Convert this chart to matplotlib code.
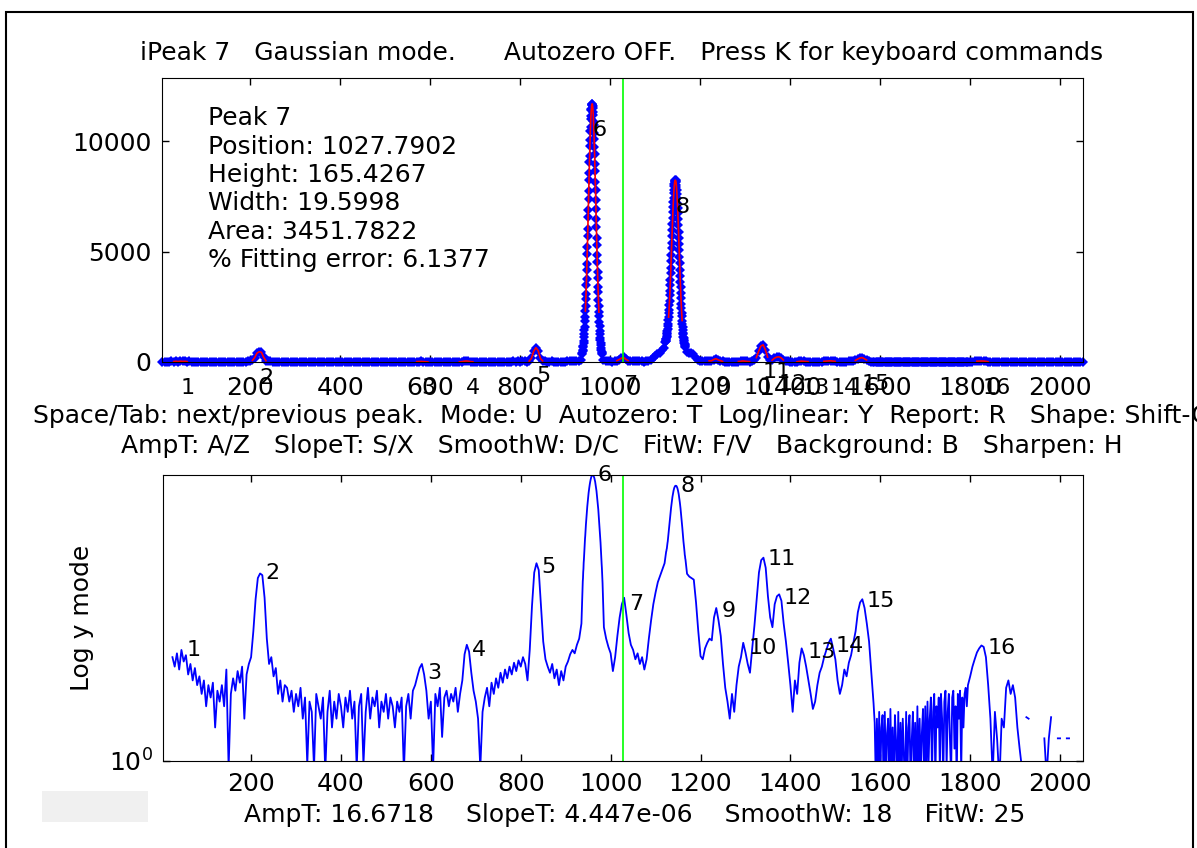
import numpy as np
import matplotlib
matplotlib.use('Agg')
import matplotlib.pyplot as plt
from matplotlib.patches import Rectangle
from matplotlib.ticker import NullLocator
from matplotlib.transforms import offset_copy

#spectrum typed in pieces: first x, step in x, intensities
seg_start = [5, 938, 985, 1123, 1170, 1587.5, 1800]
seg_step = [5, 0.5, 5, 0.5, 5, 2.5, 5]

#x 5 .. 935
cnt_low = [
    -1, 0, -2, 0, 30, 22, 34, 20, 38, 26,
    32, 17, 24, 14, 21, 12, 16, 9, 14, 6,
    12, 8, 13, 3, 10, 7, 12, 6, 20, 0.8,
    9, 15, 10, 19, 13, 22, 4, 17, 24, 30,
    70, 200, 400, 465, 440, 210, 55, 24, 30, 16,
    21, 9, 14, 7, 12, 11, 7, 10, 5, 9,
    6, 11, 4, 8, 0.9, 7, 5, 0.8, 9, 6,
    4, 8, 0.7, 5, 10, 3, 7, 4, 9, 6,
    3, 8, 5, 10, 4, 7, 0.8, 6, 9, 0.9,
    5, 11, 4, 8, 6, 10, 3, 7, 5, 9,
    4, 8, 6, 3, 7, 5, 8, 0.7, 6, 9,
    4, 10, 12, 16, 21, 24, 17, 10, 4, 7,
    0.8, 9, 6, 11, 2.2, 8, 10, 6, 9, 7,
    11, 5, 9, 14, 33, 45, 36, 18, 10, 7,
    4, 0.8, 5, 8, 11, 6, 13, 9, 15, 11,
    18, 13, 20, 15, 22, 17, 25, 19, 27, 22,
    30, 24, 14, 38, 160, 480, 650, 520, 160, 50,
    28, 22, 18, 24, 15, 20, 12, 19, 14, 22,
    26, 33, 38, 34, 45, 55, 90]

#x 938 .. 982 (peak 6)
cnt_pk6 = [
    360, 400, 490, 540, 660, 730, 870, 960, 1130, 1250,
    1460, 1600, 1850, 2020, 2310, 2520, 2850, 3100, 3470, 3740,
    4150, 4450, 4900, 5220, 5700, 6040, 6550, 6880, 7400, 7740,
    8250, 8570, 9060, 9350, 9800, 10060, 10460, 10670, 11000, 11150,
    11400, 11480, 11640, 11660, 11700, 11690, 11600, 11530, 11340, 11200,
    10930, 10730, 10390, 10120, 9730, 9420, 8980, 8640, 8170, 7810,
    7320, 6950, 6470, 6100, 5630, 5280, 4830, 4510, 4090, 3790,
    3410, 3150, 2800, 2560, 2260, 2070, 1810, 1640, 1420, 1280,
    1100, 990, 840, 750, 630, 560, 465, 415, 340]

#x 985 .. 1120
cnt_mid = [
    80, 55, 42, 34, 19, 30, 60, 110, 170, 210,
    120, 66, 45, 38, 28, 34, 24, 30, 20, 28,
    55, 100, 170, 250, 350, 430, 530, 650]

#x 1123 .. 1167 (peak 8)
cnt_pk8 = [
    905, 950, 970, 1025, 1050, 1125, 1170, 1265, 1320, 1425,
    1500, 1635, 1740, 1895, 2030, 2215, 2370, 2585, 2770, 3015,
    3230, 3495, 3730, 4015, 4270, 4575, 4840, 5145, 5410, 5715,
    5980, 6275, 6520, 6795, 7020, 7265, 7450, 7665, 7810, 7965,
    8060, 8165, 8200, 8235, 8225,
    8230, 8190, 8150, 8040, 7940, 7780, 7630, 7410, 7220, 6970,
    6740, 6460, 6210, 5910, 5640, 5330, 5060, 4750, 4480, 4170,
    3910, 3620, 3380, 3110, 2890, 2640, 2450, 2230, 2070, 1880,
    1740, 1580, 1470, 1330, 1250, 1140, 1080, 980, 930, 850,
    820, 760, 735, 690]

#x 1170 .. 1585
cnt_high = [
    460, 420, 400, 380, 180, 70, 31, 28, 40, 48,
    55, 52, 110, 150, 100, 60, 24, 11, 7, 4,
    9, 5, 12, 22, 30, 48, 35, 24, 18, 40,
    85, 200, 480, 720, 780, 560, 220, 110, 80, 170,
    220, 235, 190, 90, 50, 25, 12, 5, 14, 9,
    25, 40, 32, 22, 14, 9, 5.5, 7, 12, 18,
    22, 30, 38, 48, 55, 40, 28, 14, 9, 12,
    20, 16, 25, 32, 48, 70, 130, 180, 200, 150,
    90, 50, 18, 6.6]

#x 1587.5 .. 1795 (noisy floor)
cnt_floor = [
    3.5, 0.5, 4, 0.4, 5, 0.6, 3, 4.5, 0.3, 5,
    0.5, 2.5, 4, 0.4, 5.5, 0.6, 3, 0.3, 4.5, 2,
    0.4, 5, 0.5, 3.5, 0.6, 4, 1.2, 0.3, 5, 0.5,
    3, 4.5, 0.4, 2, 5, 0.6, 3.5, 0.3, 6, 0.5,
    4, 0.7, 2.5, 5.5, 0.4, 6,
    0.5, 7, 1, 4, 8, 0.6, 5, 9, 0.5, 6,
    3, 8, 0.7, 9, 4, 0.5, 7, 10, 0.8, 5,
    9, 2, 0.6, 8, 10, 1.5, 6, 0.5, 9, 4,
    10, 0.7, 8, 3, 9, 11, 6, 12]

#x 1800 .. 2050
cnt_tail = [
    16, 22, 28, 35,
    40, 44, 42, 30, 12, 4, 0.6, 5, 2, 0.5,
    4, 3, 11, 14, 9, 12, 8, 3, 1.5, 0.8,
    -3, 4.2, 4.0, -5, -2, -8, -4, -1, 0, 2.1,
    0.6, 2.1, 4.2, -3, -6, 2.1, 2.1, -4, -2, 2.1,
    2.1, -5, -3, -7, -2, -4, -1]

#detected peaks
peak_num = list(range(1, 17))
peak_pos = [45, 220, 581, 680, 835, 960, 1029, 1145, 1235, 1296, 1338, 1374, 1426, 1489, 1559, 1828]
peak_hgt = [38, 470, 18, 38, 575, 11700, 170, 8235, 135, 41, 745, 209, 35, 43, 190, 41]

cursor_x = 1027.7902
info = ['Peak 7', 'Position: 1027.7902', 'Height: 165.4267', 'Width: 19.5998',
        'Area: 3451.7822', '% Fitting error: 6.1377']

title_txt = 'iPeak 7   Gaussian mode.      Autozero OFF.   Press K for keyboard commands'
keys_1 = 'Space/Tab: next/previous peak.  Mode: U  Autozero: T  Log/linear: Y  Report: R   Shape: Shift-G'
keys_2 = 'AmpT: A/Z   SlopeT: S/X   SmoothW: D/C   FitW: F/V   Background: B   Sharpen: H'
status = 'AmpT: 16.6718    SlopeT: 4.447e-06    SmoothW: 18    FitW: 25'
x_ticks = list(range(200, 2001, 200))

pieces = [cnt_low, cnt_pk6, cnt_mid, cnt_pk8, cnt_high, cnt_floor, cnt_tail]
x = np.concatenate([s + d * np.arange(len(c)) for s, d, c in zip(seg_start, seg_step, pieces)])
y = np.concatenate([np.array(c, dtype=float) for c in pieces])

plt.rcParams['font.family'] = ['DejaVu Sans']
plt.rcParams['font.size'] = 18

W, H = 1197, 848
fig = plt.figure(figsize=(W / 100, H / 100), dpi=100)

#pixel helpers
def fx(px):
    return px / W

def fy(py):
    return 1 - py / H

#upper plot: linear data, red fit segments
ax1 = fig.add_axes([fx(162), fy(362), (1083 - 162) / W, (362 - 78) / H])
ax1.plot(x, y, ls='none', marker='D', ms=5, mfc='blue', mec='blue', mew=0, clip_on=False)
for p in peak_pos:
    m = np.abs(x - p) <= 15
    ax1.plot(x[m], y[m], color='red', lw=1.2)
ax1.axvline(cursor_x, color='#00ff00', lw=1.2)
ax1.set_xlim(4, 2051)
ax1.set_ylim(0, 1.1 * y.max())
ax1.set_xticks(x_ticks)
ax1.set_yticks([0, 5000, 10000])
ax1.tick_params(direction='in', top=True, right=True, length=5, width=1)
ax1.tick_params(axis='x', pad=10)
ax1.tick_params(axis='y', pad=7.5)
for n, p, h in zip(peak_num, peak_pos, peak_hgt):
    ax1.text(p, h - 1200, str(n), ha='left', va='center', fontsize=16)
for i, line in enumerate(info):
    fig.text(fx(208), fy(125 + 28.5 * i), line, va='baseline')

#lower plot: log y
ax2 = fig.add_axes([fx(163), fy(761), (1083 - 163) / W, (761 - 475) / H])
ax2.plot(x, y, color='blue', lw=1.3)
ax2.set_yscale('log', nonpositive='mask')
ax2.axvline(cursor_x, color='#00ff00', lw=1.2)
ax2.set_xlim(4, 2051)
ax2.set_ylim(1, y.max())
ax2.set_xticks(x_ticks)
ax2.set_yticks([1])
ax2.set_yticklabels([r'$10^0$'])
ax2.yaxis.set_minor_locator(NullLocator())
ax2.tick_params(direction='in', top=True, right=True, length=5, width=1)
ax2.tick_params(axis='x', pad=8)
ax2.tick_params(axis='y', pad=7.5)
shift = offset_copy(ax2.transData, fig=fig, x=5, y=0, units='dots')
for n, p, h in zip(peak_num, peak_pos, peak_hgt):
    ax2.text(p, h, str(n), ha='left', va='center', fontsize=16, transform=shift)

#figure texts
fig.text(fx(622), fy(60), title_txt, ha='center', va='baseline')
fig.text(fx(622), fy(423), keys_1, ha='center', va='baseline')
fig.text(fx(622), fy(453), keys_2, ha='center', va='baseline')
fig.text(fx(82), fy(618), 'Log y mode', rotation=90, ha='center', va='center')
fig.text(fx(635), fy(822), status, ha='center', va='baseline')

#grey button and window frame
fig.add_artist(Rectangle((fx(42), fy(822)), (148 - 42) / W, (822 - 791) / H,
                         transform=fig.transFigure, color='#f0f0f0', lw=0))
fig.add_artist(Rectangle((fx(6), -0.05), (1193 - 6) / W, fy(12) + 0.05,
                         transform=fig.transFigure, fill=False, ec='black', lw=1.5))

fig.savefig('out.png', dpi=100)
